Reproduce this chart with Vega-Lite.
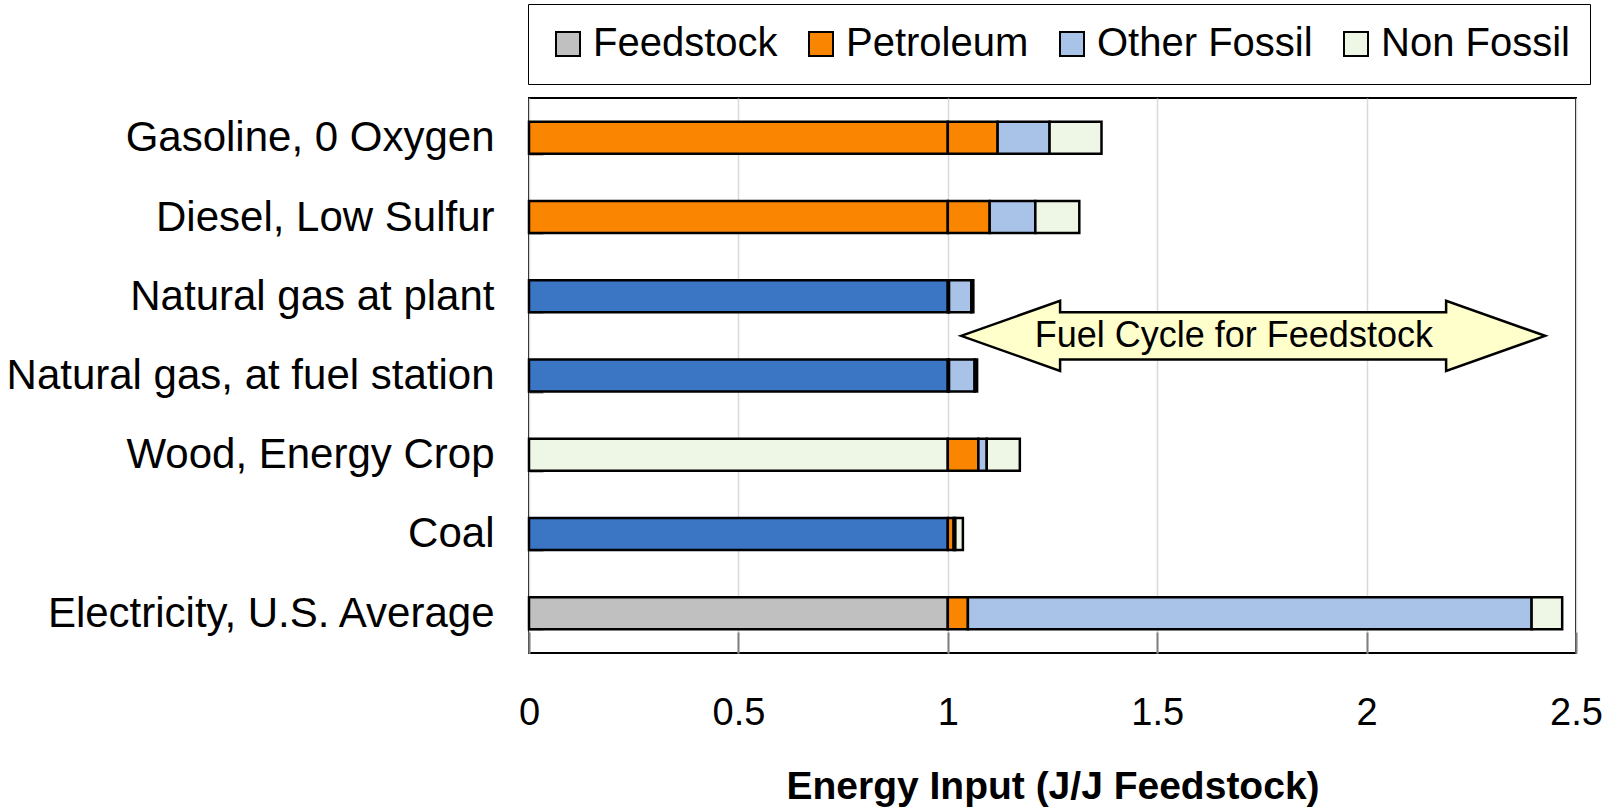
{
  "$schema": "https://vega.github.io/schema/vega-lite/v6.json",
  "width": 1047,
  "height": 555,
  "autosize": {"type": "none"},
  "padding": {"left": 529, "top": 98, "right": 45, "bottom": 155},
  "background": "white",
  "config": {
    "font": "Liberation Sans",
    "view": {"stroke": "#000000", "strokeWidth": 2},
    "axis": {"labelFont": "Liberation Sans", "labelColor": "#000000", "titleFont": "Liberation Sans", "titleColor": "#000000", "domain": false}
  },
  "layer": [
    {
      "data": {"values": [
        {"fuel": "Gasoline, 0 Oxygen", "part": "Feedstock", "source": "Petroleum", "start": 0, "end": 1},
        {"fuel": "Gasoline, 0 Oxygen", "part": "Petroleum", "source": "Petroleum", "start": 1, "end": 1.119},
        {"fuel": "Gasoline, 0 Oxygen", "part": "Other Fossil", "source": "Other Fossil", "start": 1.119, "end": 1.243},
        {"fuel": "Gasoline, 0 Oxygen", "part": "Non Fossil", "source": "Non Fossil", "start": 1.243, "end": 1.367},
        {"fuel": "Diesel, Low Sulfur", "part": "Feedstock", "source": "Petroleum", "start": 0, "end": 1},
        {"fuel": "Diesel, Low Sulfur", "part": "Petroleum", "source": "Petroleum", "start": 1, "end": 1.100},
        {"fuel": "Diesel, Low Sulfur", "part": "Other Fossil", "source": "Other Fossil", "start": 1.100, "end": 1.209},
        {"fuel": "Diesel, Low Sulfur", "part": "Non Fossil", "source": "Non Fossil", "start": 1.209, "end": 1.314},
        {"fuel": "Natural gas at plant", "part": "Feedstock", "source": "Fossil Feedstock", "start": 0, "end": 1},
        {"fuel": "Natural gas at plant", "part": "Petroleum", "source": "Petroleum", "start": 1, "end": 1.003},
        {"fuel": "Natural gas at plant", "part": "Other Fossil", "source": "Other Fossil", "start": 1.003, "end": 1.056},
        {"fuel": "Natural gas at plant", "part": "Non Fossil", "source": "Non Fossil", "start": 1.056, "end": 1.061},
        {"fuel": "Natural gas, at fuel station", "part": "Feedstock", "source": "Fossil Feedstock", "start": 0, "end": 1},
        {"fuel": "Natural gas, at fuel station", "part": "Petroleum", "source": "Petroleum", "start": 1, "end": 1.003},
        {"fuel": "Natural gas, at fuel station", "part": "Other Fossil", "source": "Other Fossil", "start": 1.003, "end": 1.064},
        {"fuel": "Natural gas, at fuel station", "part": "Non Fossil", "source": "Non Fossil", "start": 1.064, "end": 1.070},
        {"fuel": "Wood, Energy Crop", "part": "Feedstock", "source": "Non Fossil", "start": 0, "end": 1},
        {"fuel": "Wood, Energy Crop", "part": "Petroleum", "source": "Petroleum", "start": 1, "end": 1.073},
        {"fuel": "Wood, Energy Crop", "part": "Other Fossil", "source": "Other Fossil", "start": 1.073, "end": 1.093},
        {"fuel": "Wood, Energy Crop", "part": "Non Fossil", "source": "Non Fossil", "start": 1.093, "end": 1.172},
        {"fuel": "Coal", "part": "Feedstock", "source": "Fossil Feedstock", "start": 0, "end": 1},
        {"fuel": "Coal", "part": "Petroleum", "source": "Petroleum", "start": 1, "end": 1.014},
        {"fuel": "Coal", "part": "Other Fossil", "source": "Other Fossil", "start": 1.014, "end": 1.018},
        {"fuel": "Coal", "part": "Non Fossil", "source": "Non Fossil", "start": 1.018, "end": 1.036},
        {"fuel": "Electricity, U.S. Average", "part": "Feedstock", "source": "Feedstock", "start": 0, "end": 1},
        {"fuel": "Electricity, U.S. Average", "part": "Petroleum", "source": "Petroleum", "start": 1, "end": 1.048},
        {"fuel": "Electricity, U.S. Average", "part": "Other Fossil", "source": "Other Fossil", "start": 1.048, "end": 2.394},
        {"fuel": "Electricity, U.S. Average", "part": "Non Fossil", "source": "Non Fossil", "start": 2.394, "end": 2.467}
      ]},
      "mark": {"type": "bar", "stroke": "#000000", "strokeWidth": 2.5, "opacity": 1},
      "encoding": {
        "y": {
          "field": "fuel", "type": "nominal",
          "sort": ["Gasoline, 0 Oxygen", "Diesel, Low Sulfur", "Natural gas at plant", "Natural gas, at fuel station", "Wood, Energy Crop", "Coal", "Electricity, U.S. Average"],
          "scale": {"paddingInner": 0.596, "paddingOuter": 0.3},
          "axis": {"title": null, "labelFontSize": 42, "labelPadding": 49, "tickBand": "extent", "tickSize": -14, "tickColor": "#7f7f7f", "tickWidth": 2, "labelLimit": 700, "grid": false}
        },
        "x": {
          "field": "start", "type": "quantitative",
          "scale": {"domain": [0, 2.5], "nice": false},
          "title": "Energy Input  (J/J Feedstock)",
          "axis": {"values": [0, 0.5, 1, 1.5, 2, 2.5], "format": "~g", "labelFontSize": 38, "labelPadding": 62, "labelFlush": false, "tickSize": -21, "tickColor": "#7f7f7f", "tickWidth": 2, "grid": true, "gridColor": "#d9d9d9", "gridWidth": 1.5, "titleFontSize": 39, "titleFontWeight": "bold", "titlePadding": 35}
        },
        "x2": {"field": "end"},
        "color": {
          "field": "source", "type": "nominal",
          "scale": {"domain": ["Feedstock", "Petroleum", "Other Fossil", "Non Fossil", "Fossil Feedstock"], "range": ["#c0c0c0", "#f98500", "#a9c2e8", "#eef7e6", "#3a76c4"]},
          "legend": {"orient": "none", "legendX": -1, "legendY": -94, "direction": "horizontal", "columns": 4, "title": null,
            "values": ["Feedstock", "Petroleum", "Other Fossil", "Non Fossil"],
            "symbolType": "square", "symbolSize": 576, "symbolStrokeColor": "#000000", "symbolStrokeWidth": 2, "symbolOpacity": 1,
            "labelFontSize": 40, "labelFont": "Liberation Sans", "labelColor": "#000000", "labelOffset": 5, "labelLimit": 400,
            "columnPadding": 23, "padding": 20, "strokeColor": "#000000", "fillColor": "#ffffff"}
        }
      }
    },
    {
      "data": {"values": [{"x": 1.729, "row": 3.0}]},
      "mark": {"type": "point", "shape": "M-1,0L-0.661,-0.12L-0.661,-0.081L0.661,-0.081L0.661,-0.12L1,0L0.661,0.12L0.661,0.081L-0.661,0.081L-0.661,0.12Z", "size": 341056, "filled": true, "fill": "#ffffcc", "stroke": "#000000", "strokeWidth": 2.5, "opacity": 1},
      "encoding": {
        "x": {"field": "x", "type": "quantitative", "title": "Energy Input  (J/J Feedstock)"},
        "y": {"field": "row", "type": "quantitative", "scale": {"domain": [0, 7], "reverse": true}, "axis": null}
      }
    },
    {
      "data": {"values": [{"x": 1.683, "row": 3.0, "label": "Fuel Cycle for Feedstock"}]},
      "mark": {"type": "text", "fontSize": 36, "font": "Liberation Sans", "color": "#000000", "align": "center", "baseline": "middle"},
      "encoding": {
        "x": {"field": "x", "type": "quantitative", "title": "Energy Input  (J/J Feedstock)"},
        "y": {"field": "row", "type": "quantitative", "scale": {"domain": [0, 7], "reverse": true}, "axis": null},
        "text": {"field": "label"}
      }
    }
  ],
  "resolve": {"scale": {"y": "independent"}}
}
